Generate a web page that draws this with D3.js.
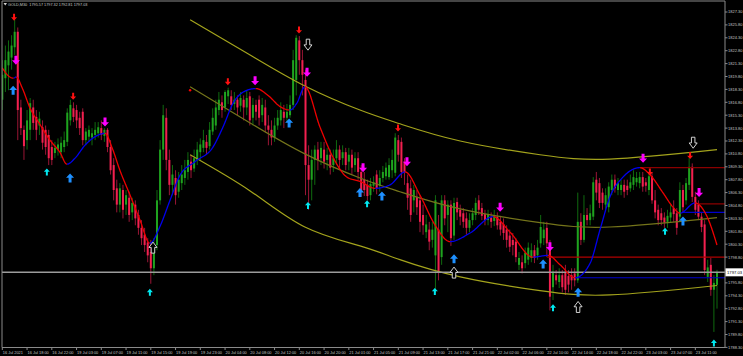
<!DOCTYPE html>
<html>
<head>
<meta charset="utf-8">
<script src="https://cdn.jsdelivr.net/npm/d3@7"></script>
<style>
  html, body { margin: 0; padding: 0; background: #000; overflow: hidden; }
  text { font-family: "Liberation Sans", Arial, sans-serif; }
</style>
</head>
<body>
<svg id="chart" width="743" height="356"></svg>
<script>
// GOLD M30, one row per bar: [open, high, low, close]
const candles = [
  [1817.1,1821.7,1815.9,1820.0],[1819.6,1823.4,1818.0,1821.7],[1821.1,1824.0,1818.2,1822.7],[1822.0,1824.6,1820.6,1823.4],
  [1823.2,1826.4,1822.3,1825.0],[1825.0,1825.5,1812.4,1815.9],[1816.2,1817.1,1813.0,1813.8],[1813.6,1814.1,1810.1,1811.7],
  [1812.4,1815.9,1811.3,1814.7],[1813.6,1817.3,1812.4,1816.7],[1816.2,1817.1,1813.6,1814.4],[1815.1,1815.9,1812.4,1813.6],
  [1814.1,1815.7,1813.0,1814.9],[1813.9,1814.7,1811.3,1812.1],[1813.6,1814.1,1810.7,1811.6],[1813.0,1813.6,1809.5,1810.3],
  [1811.6,1812.4,1809.5,1810.1],[1810.9,1812.2,1810.3,1811.5],[1811.3,1812.6,1810.6,1811.9],[1811.0,1812.8,1810.3,1812.1],
  [1811.6,1813.4,1811.0,1812.4],[1812.2,1816.1,1811.7,1815.6],[1814.7,1817.1,1814.1,1816.5],[1816.1,1816.8,1814.5,1815.1],
  [1815.9,1816.5,1813.8,1814.7],[1815.0,1815.7,1813.0,1813.8],[1815.7,1816.1,1811.8,1812.4],[1812.4,1813.8,1811.8,1813.4],
  [1812.8,1814.1,1812.2,1813.6],[1812.7,1813.8,1811.8,1813.2],[1813.0,1814.5,1812.4,1813.6],[1813.2,1814.5,1812.7,1813.9],
  [1813.8,1814.7,1812.4,1813.0],[1812.9,1813.8,1812.2,1813.6],[1813.6,1813.8,1811.0,1811.6],[1811.6,1812.4,1808.4,1808.9],
  [1809.5,1810.3,1805.4,1806.6],[1806.8,1807.8,1804.0,1804.9],[1804.9,1807.4,1804.0,1806.8],[1806.6,1807.2,1803.3,1804.3],
  [1804.9,1806.6,1803.7,1806.0],[1805.7,1806.4,1802.9,1803.7],[1804.0,1805.7,1803.1,1805.1],[1804.9,1805.4,1802.5,1803.3],
  [1803.7,1804.3,1801.4,1802.2],[1802.2,1803.1,1800.2,1801.0],[1801.4,1802.2,1799.4,1800.2],[1800.5,1801.0,1798.2,1799.0],
  [1799.4,1800.8,1795.7,1797.5],[1797.5,1801.0,1796.7,1800.2],[1800.2,1806.6,1799.6,1805.4],[1805.4,1812.4,1804.9,1811.3],
  [1811.3,1816.5,1810.1,1815.3],[1815.0,1816.1,1808.9,1810.1],[1810.1,1811.3,1806.0,1807.2],[1807.2,1809.5,1806.0,1808.4],
  [1808.0,1808.9,1804.9,1806.0],[1806.4,1808.7,1805.7,1807.8],[1807.4,1809.5,1806.6,1808.4],[1808.0,1810.1,1807.2,1808.9],
  [1808.7,1811.0,1807.8,1810.1],[1809.9,1810.7,1808.0,1808.9],[1809.1,1811.3,1808.7,1810.3],[1810.1,1812.2,1809.5,1811.3],
  [1811.0,1812.6,1810.1,1811.9],[1811.5,1813.6,1811.0,1812.4],[1812.2,1813.0,1810.7,1811.5],[1811.7,1814.5,1811.3,1813.6],
  [1813.4,1816.1,1813.0,1815.0],[1814.1,1817.1,1813.6,1816.2],[1815.9,1818.0,1815.3,1817.1],[1816.8,1817.6,1815.0,1815.9],
  [1816.2,1818.2,1815.7,1818.0],[1817.5,1818.5,1816.6,1818.2],[1817.5,1818.2,1815.9,1816.5],[1816.6,1818.0,1815.9,1817.1],
  [1817.1,1817.6,1815.3,1816.2],[1816.4,1818.0,1815.7,1817.3],[1817.1,1817.6,1814.7,1816.2],[1816.2,1818.2,1815.3,1817.3],
  [1817.5,1818.0,1814.1,1814.7],[1815.0,1817.3,1814.1,1816.5],[1816.5,1817.1,1814.7,1815.7],[1817.1,1817.6,1814.1,1815.0],
  [1815.3,1817.3,1814.5,1816.5],[1816.2,1817.1,1813.3,1814.1],[1814.1,1815.3,1811.8,1813.6],[1813.6,1814.7,1811.8,1812.7],
  [1812.7,1815.0,1812.2,1814.1],[1814.1,1815.9,1813.6,1815.0],[1814.7,1816.8,1814.1,1815.9],[1815.7,1816.5,1813.8,1815.0],
  [1815.0,1816.6,1814.5,1815.7],[1815.3,1817.6,1815.0,1816.5],[1816.5,1822.9,1815.9,1821.7],[1819.4,1824.6,1817.6,1824.3],
  [1824.0,1824.5,1820.0,1821.7],[1821.7,1822.9,1817.6,1820.0],[1819.4,1820.6,1806.0,1809.5],[1809.5,1811.8,1804.3,1807.8],
  [1807.8,1811.3,1805.4,1810.1],[1810.1,1811.8,1807.2,1811.3],[1811.3,1812.2,1808.9,1810.1],[1810.3,1812.2,1809.5,1811.5],
  [1811.3,1812.2,1809.1,1809.9],[1810.1,1811.5,1808.9,1810.7],[1810.7,1811.3,1808.4,1809.2],[1809.5,1811.3,1808.7,1810.3],
  [1810.3,1812.4,1809.5,1811.3],[1811.3,1811.8,1809.2,1810.1],[1810.3,1811.8,1809.5,1811.0],[1811.0,1811.5,1808.9,1809.5],
  [1809.9,1811.5,1808.9,1810.7],[1810.7,1811.3,1808.4,1809.2],[1809.5,1811.0,1808.7,1810.3],[1810.3,1811.0,1807.8,1808.7],
  [1808.7,1809.5,1805.8,1806.4],[1807.8,1808.7,1805.9,1806.6],[1807.2,1807.8,1805.4,1805.9],[1806.0,1808.0,1805.4,1807.3],
  [1807.1,1808.2,1806.4,1807.5],[1808.4,1808.9,1806.1,1806.8],[1807.1,1808.9,1806.4,1808.0],[1808.0,1809.4,1807.5,1808.7],
  [1808.2,1809.8,1807.8,1809.2],[1808.1,1810.3,1807.8,1809.5],[1808.9,1811.3,1808.0,1810.1],[1808.6,1813.2,1808.2,1812.7],
  [1812.4,1813.0,1809.9,1810.7],[1812.2,1812.7,1808.0,1808.7],[1809.9,1810.3,1807.2,1808.7],[1807.4,1808.4,1804.3,1805.7],
  [1806.8,1807.8,1802.9,1803.7],[1805.4,1807.2,1804.0,1806.6],[1805.8,1806.6,1803.7,1804.6],[1805.4,1806.0,1801.7,1802.9],
  [1803.7,1804.9,1801.4,1802.5],[1801.7,1803.7,1801.0,1802.6],[1802.0,1802.9,1799.6,1800.6],[1800.8,1802.9,1799.9,1802.0],
  [1799.0,1806.0,1794.6,1805.4],[1802.0,1803.7,1796.1,1797.1],[1798.8,1806.0,1797.9,1805.4],[1805.4,1806.0,1802.5,1803.3],
  [1803.7,1805.4,1801.7,1804.9],[1804.9,1805.4,1800.1,1801.0],[1801.3,1805.7,1800.8,1805.1],[1805.2,1805.7,1803.1,1804.0],
  [1804.3,1804.9,1802.5,1803.5],[1803.9,1804.5,1802.2,1802.9],[1803.3,1804.0,1801.4,1802.2],[1802.2,1803.9,1801.7,1803.1],
  [1803.1,1804.5,1802.5,1803.9],[1803.7,1805.7,1803.1,1805.1],[1805.4,1806.0,1803.7,1804.3],[1804.5,1805.1,1803.1,1803.6],
  [1803.8,1804.3,1802.5,1803.1],[1803.1,1804.3,1802.5,1803.7],[1803.4,1804.0,1802.2,1802.9],[1803.0,1804.3,1802.4,1803.6],
  [1803.5,1804.0,1802.0,1802.5],[1802.9,1803.6,1801.3,1802.0],[1802.6,1803.3,1800.8,1801.6],[1802.0,1802.5,1799.9,1800.8],
  [1801.3,1802.0,1799.4,1800.0],[1800.8,1801.6,1799.0,1800.2],[1800.6,1801.0,1798.2,1798.8],[1797.9,1799.4,1797.3,1798.7],
  [1798.2,1799.0,1796.9,1797.5],[1798.1,1799.9,1797.5,1799.3],[1798.5,1800.5,1797.9,1799.9],[1798.7,1800.4,1798.2,1799.6],
  [1799.6,1800.2,1798.1,1798.7],[1799.0,1800.8,1798.5,1799.9],[1800.4,1803.7,1799.9,1802.3],[1801.0,1802.9,1800.2,1802.0],
  [1802.2,1802.9,1798.8,1800.4],[1800.2,1800.8,1792.6,1794.2],[1795.3,1797.9,1793.8,1797.1],[1796.7,1797.3,1795.6,1796.1],
  [1795.9,1797.5,1795.2,1796.7],[1796.7,1797.3,1794.7,1795.3],[1797.1,1797.9,1794.4,1795.0],[1796.6,1797.3,1794.7,1795.6],
  [1796.7,1797.5,1795.0,1796.1],[1796.9,1797.5,1795.4,1796.1],[1796.1,1806.3,1795.8,1802.9],[1802.9,1803.9,1800.2,1800.8],
  [1800.8,1806.0,1800.5,1803.7],[1803.7,1804.5,1802.5,1803.1],[1803.1,1804.9,1802.5,1803.9],[1803.5,1808.1,1803.1,1807.5],
  [1807.8,1808.7,1805.4,1806.3],[1807.4,1808.0,1804.5,1805.1],[1806.3,1806.8,1804.3,1805.1],[1804.9,1806.8,1804.3,1806.0],
  [1804.6,1807.5,1804.0,1807.0],[1806.6,1808.4,1806.0,1807.8],[1807.8,1808.4,1806.3,1806.8],[1806.6,1808.0,1806.0,1807.4],
  [1806.6,1807.8,1806.0,1807.2],[1807.2,1807.8,1805.7,1806.4],[1807.1,1807.8,1806.0,1806.6],[1806.8,1808.4,1806.4,1807.5],
  [1807.2,1808.9,1806.6,1808.1],[1807.5,1808.7,1807.0,1808.0],[1807.4,1808.7,1806.8,1808.1],[1808.1,1808.7,1806.4,1807.0],
  [1807.5,1808.0,1806.4,1807.1],[1806.6,1808.7,1806.0,1808.2],[1808.2,1808.7,1805.0,1805.4],[1805.4,1806.6,1803.3,1804.0],
  [1804.3,1804.9,1802.5,1803.1],[1803.9,1804.5,1802.5,1803.1],[1803.4,1804.0,1802.2,1802.8],[1802.9,1804.3,1802.2,1803.6],
  [1803.4,1804.9,1802.8,1804.0],[1804.5,1805.4,1802.9,1803.8],[1803.9,1804.5,1801.4,1802.2],[1803.5,1807.5,1802.9,1806.6],
  [1806.6,1807.2,1804.0,1804.6],[1805.4,1808.0,1804.9,1807.4],[1807.2,1810.3,1806.6,1809.3],[1809.3,1809.7,1805.2,1805.8],
  [1805.8,1806.4,1803.7,1804.3],[1804.9,1805.4,1803.1,1803.5],[1803.5,1804.0,1801.7,1802.3],[1802.6,1803.1,1796.7,1797.3],
  [1796.5,1798.5,1795.9,1797.6],[1797.9,1798.7,1794.3,1795.0],[1795.0,1796.7,1790.1,1795.8],[1795.57,1797.32,1792.81,1797.03]
];

// time axis labels, one every 8 bars
const timeLabels = ["16 Jul 2021","16 Jul 18:00","16 Jul 22:00","19 Jul 03:00","19 Jul 07:00","19 Jul 11:00",
  "19 Jul 15:00","19 Jul 19:00","19 Jul 23:00","20 Jul 04:00","20 Jul 08:00","20 Jul 12:00","20 Jul 16:00",
  "20 Jul 20:00","21 Jul 01:00","21 Jul 05:00","21 Jul 09:00","21 Jul 13:00","21 Jul 17:00","21 Jul 21:00",
  "22 Jul 02:00","22 Jul 06:00","22 Jul 10:00","22 Jul 14:00","22 Jul 18:00","22 Jul 22:00","23 Jul 03:00",
  "23 Jul 07:00","23 Jul 11:00"];
const labelStep = 8;

const priceTicks = [1827.3,1825.8,1824.3,1822.8,1821.3,1819.8,1818.3,1816.8,1815.3,1813.8,1812.3,1810.8,
  1809.3,1807.8,1806.3,1804.8,1803.3,1801.8,1800.3,1798.8,1797.3,1795.8,1794.3,1792.8,1791.3,1789.8,1788.3];

// smoothed average, [bar, price]; drawn blue while rising, red while falling
const maLine = [[0,1820.8],[2.2,1819.8],[3.6,1819.6],[4.5,1819.75],[6.4,1818.5],[9.0,1816.1],[12.2,1814.2],
  [15.4,1812.4],[18.6,1811.0],[20.9,1809.6],[23.5,1810.3],[26.7,1811.8],[30.0,1812.8],[33.2,1813.2],[35.5,1811.5],
  [38.0,1808.9],[41.3,1806.0],[44.5,1803.1],[47.7,1800.4],[51.0,1802.4],[54.2,1805.4],[57.4,1808.3],[62.3,1809.9],
  [68.1,1811.6],[71.3,1813.9],[74.6,1816.7],[79.1,1818.2],[82.0,1818.4],[85.9,1817.6],[89.8,1816.3],[93.0,1815.9],
  [95.2,1816.7],[97.8,1818.6],[102.7,1813.9],[106.9,1810.4],[111.4,1808.1],[115.6,1807.6],[120.5,1806.8],
  [125.3,1807.2],[130.2,1808.7],[135.0,1806.0],[139.9,1802.5],[144.7,1800.6],[151.2,1801.6],[158.6,1803.5],
  [164.1,1801.7],[171.5,1798.8],[176.4,1799.0],[180.3,1797.9],[185.1,1796.4],[190.0,1798.1],[193.2,1802.0],
  [196.4,1805.8],[200.6,1808.1],[206.1,1809.2],[209.3,1808.4],[213.5,1806.3],[216.8,1804.6],[219.0,1803.9],
  [223.9,1805.1],[227.8,1803.5],[231.0,1800.2]];

// regression channel, [bar, price]
const chanUpper = [[60.7,1826.4],[80.1,1822.3],[97.8,1818.7],[115.6,1815.9],[128.5,1814.3],[148.0,1812.3],[173.8,1810.7],[196.4,1810.2],[231.0,1811.3]];
const chanMid   = [[60.7,1818.6],[80.1,1814.4],[97.8,1810.8],[115.6,1808.0],[128.5,1806.4],[148.0,1804.4],[173.8,1802.8],[196.4,1802.3],[231.0,1803.4]];
const chanLower = [[60.7,1810.7],[80.1,1806.5],[97.8,1802.3],[115.6,1800.1],[128.5,1798.5],[148.0,1796.5],[173.8,1794.9],[196.4,1794.4],[231.0,1795.5]];

// horizontal levels: [from bar, price, colour]
const levels = [[206.1,1809.2,"#8b0000"],[224.5,1805.0,"#8b0000"],[219.7,1804.0,"#0000cd"],
  [176.1,1798.8,"#b00000"],[185.1,1796.4,"#0000cd"]];

// signal arrows: [bar, price, kind]
const arrows = [
  [3.8,1826.7,"rd"],[22.9,1817.5,"rd"],[72.9,1819.2,"rd"],[95.9,1825.2,"rd"],[127.9,1813.8,"rd"],[209.3,1808.7,"rd"],[222.3,1810.6,"rd"],
  [4.4,1821.7,"md"],[33.2,1814.5,"md"],[81.7,1819.3,"md"],[98.5,1820.3,"md"],[116.6,1809.2,"md"],[130.8,1809.9,"md"],
  [160.9,1804.6,"md"],[177.0,1800.0,"md"],[207.1,1810.3,"md"],[225.2,1806.3,"md"],
  [3.5,1818.2,"bu"],[21.9,1808.0,"bu"],[92.7,1814.4,"bu"],[115.6,1806.3,"bu"],[122.7,1805.9,"bu"],[146.0,1798.6,"bu"],
  [174.8,1798.0,"bu"],[186.1,1794.7,"bu"],[220.0,1803.0,"bu"],
  [14.4,1808.7,"cu"],[47.7,1794.7,"cu"],[98.8,1804.8,"cu"],[117.9,1805.0,"cu"],[139.8,1794.8,"cu"],[178.0,1792.9,"cu"],
  [214.2,1801.8,"cu"],[230.0,1788.8,"cu"],
  [48.7,1799.9,"wu"],[146.0,1797.0,"wu"],[186.1,1793.0,"wu"],
  [98.8,1823.5,"wd"],[223.3,1812.1,"wd"],
  [60.7,1818.2,"dot"]
];

const header = "GOLD,M30  1795.57 1797.32 1792.81 1797.03";
const lastPrice = 1797.03;

const W = 743, H = 356;
const plotL = 2, plotR = 725, plotT = 1, plotB = 347.5;

const x = d3.scaleLinear().domain([0, candles.length - 1]).range([2.3, 717]);
const y = d3.scaleLinear().domain([1788.3, 1827.3]).range([347.4, 12]);

const svg = d3.select("#chart");
svg.append("rect").attr("width", W).attr("height", H).attr("fill", "#000");

svg.append("defs").append("clipPath").attr("id", "plotclip")
  .append("rect").attr("x", plotL).attr("y", plotT).attr("width", plotR - plotL).attr("height", plotB - plotT);

const plot = svg.append("g").attr("clip-path", "url(#plotclip)");

// candles
const bullBody = "#1fa31f", bullWick = "#0f6a0f", bearBody = "#f2204f", bearWick = "#9a1535";
const bar = plot.append("g").selectAll("g").data(candles).enter().append("g");
bar.append("line")
  .attr("x1", (d, i) => x(i)).attr("x2", (d, i) => x(i))
  .attr("y1", d => y(d[1])).attr("y2", d => y(d[2]))
  .attr("stroke", d => d[3] >= d[0] ? bullWick : bearWick)
  .attr("stroke-width", 1);
bar.append("rect")
  .attr("x", (d, i) => x(i) - 1).attr("width", 2)
  .attr("y", d => y(Math.max(d[0], d[3])))
  .attr("height", d => Math.max(1, Math.abs(y(d[0]) - y(d[3]))))
  .attr("fill", d => d[3] >= d[0] ? bullBody : bearBody);

// regression channel
const chanLine = d3.line().x(d => x(d[0])).y(d => y(d[1])).curve(d3.curveNatural);
[[chanUpper, "#a3a31c"], [chanMid, "#74741a"], [chanLower, "#a3a31c"]].forEach(([pts, col]) => {
  plot.append("path").attr("d", chanLine(pts)).attr("fill", "none").attr("stroke", col).attr("stroke-width", 1.2);
});

// levels
plot.append("g").selectAll("line").data(levels).enter().append("line")
  .attr("x1", d => x(d[0])).attr("x2", plotR)
  .attr("y1", d => y(d[1])).attr("y2", d => y(d[1]))
  .attr("stroke", d => d[2]).attr("stroke-width", 1.2);

// current price line
plot.append("line").attr("x1", plotL).attr("x2", plotR)
  .attr("y1", y(lastPrice)).attr("y2", y(lastPrice))
  .attr("stroke", "#9c9c9c").attr("stroke-width", 1.4);

// smoothed average coloured by direction
const maPath = plot.append("path")
  .attr("d", d3.line().x(d => x(d[0])).y(d => y(d[1])).curve(d3.curveMonotoneX)(maLine))
  .attr("fill", "none").attr("stroke", "none");
const node = maPath.node(), len = node.getTotalLength();
const runs = [];
let prev = node.getPointAtLength(0), col = "#ee0000", run = { col, pts: [[prev.x, prev.y]] };
for (let s = 1; s <= Math.ceil(len); s++) {
  const p = node.getPointAtLength(Math.min(s, len));
  let c = col;
  if (p.y < prev.y - 0.02) c = "#0000ee";
  else if (p.y > prev.y + 0.02) c = "#ee0000";
  if (c !== col) { runs.push(run); run = { col: c, pts: [[prev.x, prev.y]] }; col = c; }
  run.pts.push([p.x, p.y]);
  prev = p;
}
runs.push(run);
plot.append("g").selectAll("path").data(runs).enter().append("path")
  .attr("d", d => d3.line()(d.pts)).attr("fill", "none")
  .attr("stroke", d => d.col).attr("stroke-width", 1.3).attr("stroke-linejoin", "round");

// arrows
function arrowDown(w, h, s) {
  const hh = h / 2, neck = hh - h * 0.48;
  return `M${-s/2},${-hh}L${s/2},${-hh}L${s/2},${neck}L${w/2},${neck}L0,${hh}L${-w/2},${neck}L${-s/2},${neck}Z`;
}
const arrowStyle = {
  rd: { w: 6, h: 7, s: 2, fill: "#ff1010", up: false },
  md: { w: 8, h: 9, s: 3, fill: "#ff00ff", up: false },
  bu: { w: 8, h: 9, s: 3, fill: "#1e90ff", up: true },
  cu: { w: 6, h: 7, s: 2, fill: "#00e8f0", up: true },
  wu: { w: 8, h: 11, s: 3.5, fill: "#000", stroke: "#e6e6e6", up: true },
  wd: { w: 8, h: 11, s: 3.5, fill: "#000", stroke: "#e6e6e6", up: false }
};
const ag = plot.append("g");
arrows.forEach(a => {
  const cx = x(a[0]), cy = y(a[1]);
  if (a[2] === "dot") {
    ag.append("circle").attr("cx", cx).attr("cy", cy).attr("r", 1.2).attr("fill", "#ff0000");
    return;
  }
  const st = arrowStyle[a[2]];
  ag.append("path")
    .attr("d", arrowDown(st.w, st.h, st.s))
    .attr("transform", `translate(${cx},${cy})` + (st.up ? " scale(1,-1)" : ""))
    .attr("fill", st.fill)
    .attr("stroke", st.stroke || "none").attr("stroke-width", st.stroke ? 0.9 : 0);
});

// frame
svg.append("path")
  .attr("d", `M${plotL},${plotB}V${plotT}H${plotR}V${plotB}H${plotL}`)
  .attr("fill", "none").attr("stroke", "#8a8a8a").attr("stroke-width", 1);

// price axis (the tick hidden under the last-price tag is left out)
const shownTicks = priceTicks.filter(p => Math.abs(y(p) - y(lastPrice)) > 6);
const pa = svg.append("g").selectAll("g").data(shownTicks).enter().append("g");
pa.append("line").attr("x1", plotR).attr("x2", plotR + 2.5)
  .attr("y1", d => y(d)).attr("y2", d => y(d)).attr("stroke", "#8a8a8a");
pa.append("text").attr("x", plotR + 3).attr("y", d => y(d) + 1.4)
  .attr("font-size", 4).attr("fill", "#c4c4c4").text(d => d.toFixed(2));

// time axis
const ta = svg.append("g").selectAll("g").data(timeLabels).enter().append("g");
ta.append("line").attr("x1", (d, i) => x(i * labelStep)).attr("x2", (d, i) => x(i * labelStep))
  .attr("y1", plotB).attr("y2", plotB + 2.5).attr("stroke", "#8a8a8a");
ta.append("text").attr("x", (d, i) => x(i * labelStep) + 0.5).attr("y", 353.5)
  .attr("font-size", 3.9).attr("fill", "#c4c4c4").text(d => d);

// current price tag
svg.append("rect").attr("x", plotR + 0.5).attr("y", y(lastPrice) - 4)
  .attr("width", W - plotR).attr("height", 8).attr("fill", "#ffffff");
svg.append("text").attr("x", plotR + 2).attr("y", y(lastPrice) + 1.5)
  .attr("font-size", 4.2).attr("fill", "#000").text(lastPrice.toFixed(2));

// header
svg.append("path").attr("d", "M3.5,3L7,3L5.25,5.5Z").attr("fill", "#d0d0d0");
svg.append("text").attr("x", 8).attr("y", 5.6).attr("font-size", 3.8).attr("fill", "#c8c8c8")
  .attr("xml:space", "preserve").text(header);
</script>
</body>
</html>
